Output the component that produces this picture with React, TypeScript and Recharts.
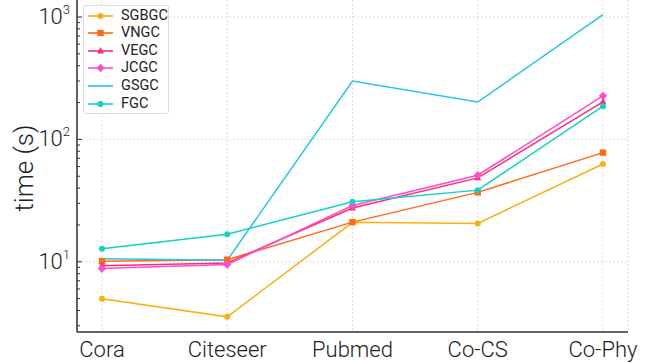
import React from 'react';
import {
  LineChart,
  Line,
  XAxis,
  YAxis,
  CartesianGrid,
  ReferenceLine,
} from 'recharts';

const categories = ['Cora', 'Citeseer', 'Pubmed', 'Co-CS', 'Co-Phy'];
const sgbgc = [5.0, 3.55, 21.0, 20.6, 63];
const vngc = [10.1, 10.4, 21.1, 36.9, 78];
const vegc = [9.3, 9.8, 27.5, 48.5, 203];
const jcgc = [8.8, 9.5, 28.8, 51, 227];
const gsgc = [10.6, 10.3, 300, 202, 1044];
const fgc = [12.8, 16.8, 30.9, 38.5, 187];

const decades = [10, 100, 1000];
const yTicks = [
  3, 4, 5, 6, 7, 8, 9,
  10, 20, 30, 40, 50, 60, 70, 80, 90,
  100, 200, 300, 400, 500, 600, 700, 800, 900,
  1000,
];

const data = categories.map((name, i) => ({
  name,
  SGBGC: sgbgc[i],
  VNGC: vngc[i],
  VEGC: vegc[i],
  JCGC: jcgc[i],
  GSGC: gsgc[i],
  FGC: fgc[i],
}));

type Shape = 'circle' | 'square' | 'triangle' | 'diamond' | 'none';

const series: { key: string; color: string; shape: Shape }[] = [
  { key: 'SGBGC', color: '#FFAD0D', shape: 'circle' },
  { key: 'VNGC', color: '#FF6A14', shape: 'square' },
  { key: 'VEGC', color: '#FF2D6E', shape: 'triangle' },
  { key: 'JCGC', color: '#FF4DD0', shape: 'diamond' },
  { key: 'GSGC', color: '#22C4F2', shape: 'none' },
  { key: 'FGC', color: '#14D0C6', shape: 'circle' },
];

const FONT = 'Roboto, "Liberation Sans", sans-serif';

function marker(shape: Shape, color: string, cx: number, cy: number, key?: string) {
  switch (shape) {
    case 'circle':
      return <circle key={key} cx={cx} cy={cy} r={3} fill={color} />;
    case 'square':
      return <rect key={key} x={cx - 3.2} y={cy - 3.2} width={6.4} height={6.4} fill={color} />;
    case 'triangle':
      return (
        <polygon key={key} points={`${cx},${cy - 4} ${cx - 3.5},${cy + 2.5} ${cx + 3.5},${cy + 2.5}`} fill={color} />
      );
    case 'diamond':
      return (
        <polygon key={key} points={`${cx},${cy - 4.2} ${cx + 4.2},${cy} ${cx},${cy + 4.2} ${cx - 4.2},${cy}`} fill={color} />
      );
    default:
      return <g key={key} />;
  }
}

function YTick(props: any) {
  const { x, y, payload } = props;
  const v = payload.value;
  const major = decades.includes(v);
  return (
    <g>
      <line x1={x} x2={x + (major ? 5 : 3)} y1={y} y2={y} stroke="#333" strokeWidth={1} />
      {major && (
        <text x={x - 7} y={y + 7} textAnchor="end" fill="#222" fontFamily={FONT} fontWeight={300} fontSize={22}>
          <tspan>10</tspan>
          <tspan dy={-10} fontSize={13}>{Math.round(Math.log10(v))}</tspan>
        </text>
      )}
    </g>
  );
}

function Legend() {
  return (
    <div
      style={{
        position: 'absolute',
        left: 83,
        top: 5,
        width: 86,
        height: 109,
        border: '1px solid #ddd',
        borderRadius: 3,
        background: 'white',
        boxSizing: 'border-box',
        fontFamily: FONT,
        fontSize: 14.5,
        color: '#222',
      }}
    >
      {series.map((s, i) => (
        <div key={s.key} style={{ position: 'absolute', left: 0, top: 9.5 + i * 17.6 - 8, height: 16, width: 85 }}>
          <svg width={30} height={16} style={{ position: 'absolute', left: 3, top: 0 }}>
            <line x1={1} x2={26} y1={8} y2={8} stroke={s.color} strokeWidth={1.6} />
            {marker(s.shape, s.color, 13.5, 8)}
          </svg>
          <span style={{ position: 'absolute', left: 37, top: 0, lineHeight: '16px' }}>{s.key}</span>
        </div>
      ))}
    </div>
  );
}

export default function App() {
  return (
    <div style={{ position: 'absolute', left: 0, top: 0, width: 655, height: 363, background: 'white' }}>
      <LineChart width={655} height={363} data={data} margin={{ top: 0, right: 27, bottom: 0, left: 0 }}>
        <CartesianGrid horizontal={false} stroke="#ddd" strokeDasharray="2 2" />
        {decades.map((d) => (
          <ReferenceLine key={d} y={d} stroke="#ddd" strokeDasharray="2 2" />
        ))}
        <XAxis
          dataKey="name"
          height={31}
          padding={{ left: 25, right: 25 }}
          axisLine={{ stroke: '#333', strokeWidth: 1.5 }}
          tickLine={false}
          tickMargin={3}
          tick={{ fill: '#222', fontSize: 22, fontFamily: FONT, fontWeight: 300 }}
        />
        <YAxis
          type="number"
          scale="log"
          domain={[2.67, 1377]}
          allowDataOverflow
          ticks={yTicks}
          interval={0}
          width={77}
          tickSize={0}
          tickMargin={0}
          tickLine={false}
          axisLine={{ stroke: '#333', strokeWidth: 1.5 }}
          tick={<YTick />}
          label={{
            content: () => (
              <text
                x={33}
                y={168}
                transform="rotate(-90 33 168)"
                textAnchor="middle"
                fill="#222"
                fontFamily={FONT}
                fontWeight={300}
                fontSize={26}
              >
                time (s)
              </text>
            ),
          }}
        />
        {series.map((s) => (
          <Line
            key={s.key}
            dataKey={s.key}
            type="linear"
            stroke={s.color}
            strokeWidth={1.5}
            isAnimationActive={false}
            dot={(p: any) => marker(s.shape, s.color, p.cx, p.cy, `${s.key}-${p.index}`)}
            activeDot={false}
          />
        ))}
      </LineChart>
      <Legend />
    </div>
  );
}
